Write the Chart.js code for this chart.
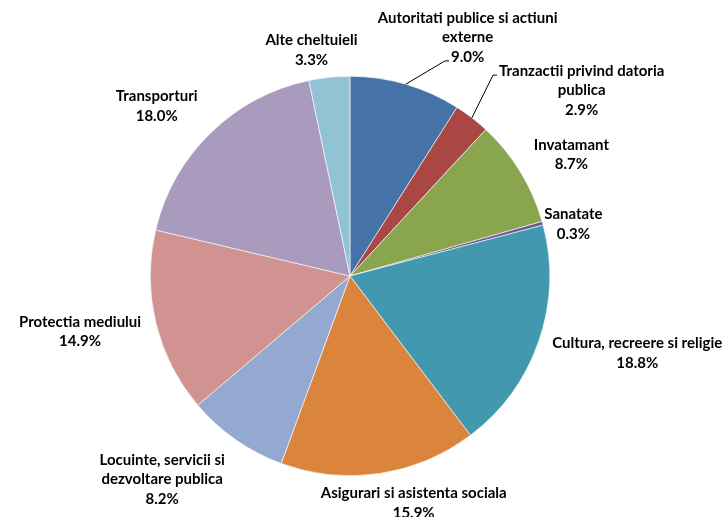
<!DOCTYPE html>
<html>
<head>
<meta charset="utf-8">
<script src="https://cdn.jsdelivr.net/npm/chart.js@4"></script>
<style>
  html, body { margin: 0; padding: 0; background: #fff; }
  #wrap { width: 725px; height: 517px; position: relative; }
</style>
</head>
<body>
<div id="wrap"><canvas id="pie"></canvas></div>
<script>
// categories (each entry = lines of the label)
const categories = [
    ['Autoritati publice si actiuni', 'externe'],
    ['Tranzactii privind datoria', 'publica'],
    ['Invatamant'],
    ['Sanatate'],
    ['Cultura, recreere si religie'],
    ['Asigurari si asistenta sociala'],
    ['Locuinte, servicii si', 'dezvoltare publica'],
    ['Protectia mediului'],
    ['Transporturi'],
    ['Alte cheltuieli']
];

// share of total, percent
const shares = [9.0, 2.9, 8.7, 0.3, 18.8, 15.9, 8.2, 14.9, 18.0, 3.3];

const colors = [
    '#4572A7', '#AA4643', '#89A54E', '#71588F', '#4198AF',
    '#DB843D', '#93A9CF', '#D19392', '#A99BBD', '#92C3D5'
];

// label tweaks (dx, dy) relative to the computed outside position
const labelNudge = [
    [33, -8], [40, 10], [5, 0], [-8, 9], [4, 2],
    [19, 0], [-24, 2], [-5, 2], [-7, 0], [-12, 2]
];
// slices whose label was dragged away and gets a leader line (value = line to attach to)
const leaders = { 0: 2, 1: 0 };

const FONT = 'bold 15px Lato, "Open Sans", sans-serif';
const LINE_H = 19.5;

const outsideLabels = {
    id: 'outsideLabels',
    afterDatasetsDraw(chart) {
        const ctx = chart.ctx;
        const meta = chart.getDatasetMeta(0);
        ctx.save();
        ctx.font = FONT;
        ctx.fillStyle = '#000';
        ctx.textAlign = 'center';
        ctx.textBaseline = 'middle';

        meta.data.forEach((arc, i) => {
            const lines = categories[i].concat([shares[i].toFixed(1) + '%']);
            const w = Math.max(...lines.map(l => ctx.measureText(l).width));
            const h = lines.length * LINE_H;
            const mid = (arc.startAngle + arc.endAngle) / 2;
            const dx = Math.cos(mid), dy = Math.sin(mid);
            const m = Math.max(Math.abs(dx), Math.abs(dy));
            const r = arc.outerRadius + 10;
            let cx = arc.x + r * dx + (w / 2) * dx / m;
            let cy = arc.y + r * dy + (h / 2) * dy / m;
            cx += labelNudge[i][0];
            cy += labelNudge[i][1];

            const top = cy - h / 2 + LINE_H / 2;
            lines.forEach((l, k) => ctx.fillText(l, cx, top + k * LINE_H));

            if (leaders[i] !== undefined) {
                const k = leaders[i];
                const ly = top + k * LINE_H + 4;
                const lx = cx - ctx.measureText(lines[k]).width / 2;
                ctx.beginPath();
                ctx.strokeStyle = '#000';
                ctx.lineWidth = 1;
                ctx.moveTo(arc.x + arc.outerRadius * dx, arc.y + arc.outerRadius * dy);
                ctx.lineTo(lx - 6, ly);
                ctx.lineTo(lx - 2, ly);
                ctx.stroke();
            }
        });
        ctx.restore();
    }
};

new Chart(document.getElementById('pie'), {
    type: 'pie',
    data: {
        labels: categories,
        datasets: [{
            data: shares,
            backgroundColor: colors,
            borderColor: '#ffffff',
            borderWidth: 0.6
        }]
    },
    options: {
        responsive: true,
        maintainAspectRatio: false,
        animation: false,
        layout: {
            padding: { left: 150, right: 175, top: 76, bottom: 41 }
        },
        plugins: {
            legend: { display: false },
            tooltip: { enabled: false }
        }
    },
    plugins: [outsideLabels]
});
</script>
</body>
</html>
